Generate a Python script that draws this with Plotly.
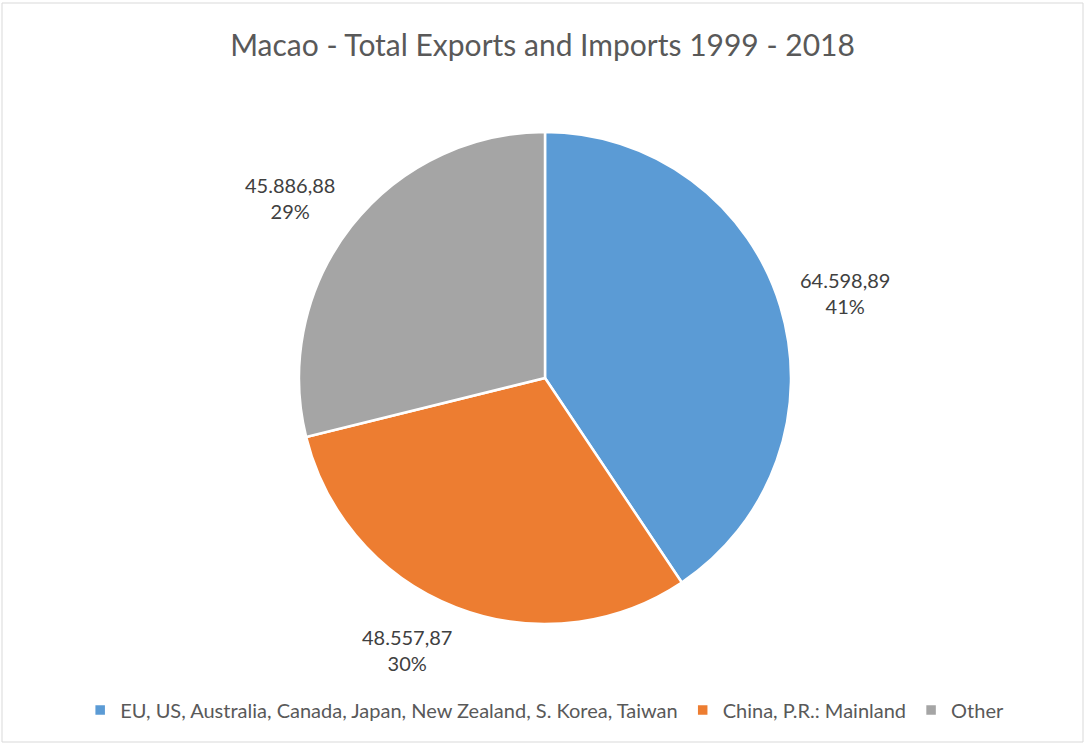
import math
import plotly.graph_objects as go

# Trade partner groups and totals (1999 - 2018)
categories = [
    "EU, US, Australia, Canada, Japan, New Zealand, S. Korea, Taiwan",
    "China, P.R.: Mainland",
    "Other",
]
values = [64598.89, 48557.87, 45886.88]
pct_labels = ["41%", "30%", "29%"]
colors = ["#5B9BD5", "#ED7D31", "#A5A5A5"]

W, H = 1085, 745
cx, cy, radius = 545, 378, 246  # pie centre and radius in pixels
FONT = "Lato"
LABEL_HALF_W, LABEL_HALF_H = 46, 26  # approx. half size of a two-line label


def euro_fmt(v):
    s = f"{v:,.2f}"
    return s.replace(",", "X").replace(".", ",").replace("X", ".")


fig = go.Figure()
fig.add_trace(
    go.Pie(
        labels=categories,
        values=values,
        sort=False,
        direction="clockwise",
        rotation=0,
        marker=dict(colors=colors, line=dict(color="white", width=2.5)),
        textinfo="none",
        hoverinfo="label+value+percent",
        domain=dict(
            x=[(cx - radius) / W, (cx + radius) / W],
            y=[(H - cy - radius) / H, (H - cy + radius) / H],
        ),
    )
)

# Data labels outside each slice: start from a point on the slice bisector
# just beyond the rim and push the label box outward, away from the pie
total = sum(values)
start = 0.0
anchor_r = radius * 1.08
for v, pct in zip(values, pct_labels):
    frac = v / total
    mid = (start + frac / 2) * 2 * math.pi  # clockwise from 12 o'clock
    start += frac
    s, c = math.sin(mid), math.cos(mid)
    px = cx + anchor_r * s + LABEL_HALF_W * max(-1.0, min(1.0, 2.5 * s))
    py = cy - anchor_r * c - LABEL_HALF_H * c
    fig.add_annotation(
        x=px / W,
        y=1 - py / H,
        xref="paper",
        yref="paper",
        text=f"{euro_fmt(v)}<br>{pct}",
        showarrow=False,
        font=dict(family=FONT, size=20, color="#404040"),
        align="center",
        xanchor="center",
        yanchor="middle",
    )

# Chart frame
fig.add_shape(
    type="rect",
    xref="paper",
    yref="paper",
    x0=2 / W,
    x1=1083 / W,
    y0=1 - 742 / H,
    y1=1 - 3 / H,
    line=dict(color="#D9D9D9", width=1),
)

fig.update_layout(
    width=W,
    height=H,
    margin=dict(l=0, r=0, t=0, b=0),
    paper_bgcolor="white",
    plot_bgcolor="white",
    title=dict(
        text="Macao - Total Exports and Imports 1999 - 2018",
        x=0.5,
        xanchor="center",
        y=1 - 45 / H,
        yanchor="middle",
        font=dict(family=FONT, size=30, color="#595959"),
    ),
    legend=dict(
        orientation="h",
        x=0.502,
        xanchor="center",
        y=1 - 710 / H,
        yanchor="middle",
        font=dict(family=FONT, size=20, color="#595959"),
        itemwidth=30,
    ),
    showlegend=True,
)

fig.write_html("out.html")
